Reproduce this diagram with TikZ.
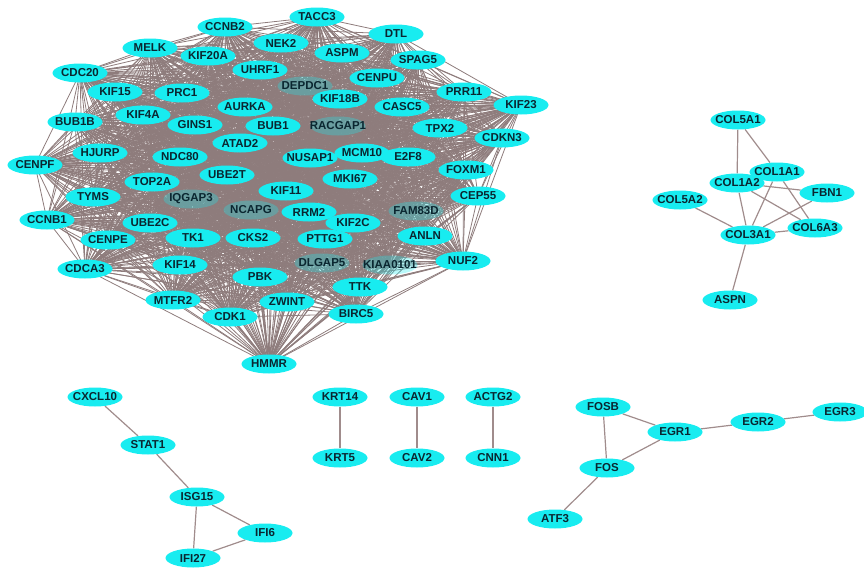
\documentclass[tikz,border=0pt]{standalone}
\usepackage{fontspec}
\setmainfont{Liberation Sans}
\usetikzlibrary{shapes.geometric}
\pgfdeclarelayer{edges}
\pgfsetlayers{edges,main}

\definecolor{nodecyan}{RGB}{24,236,240}
\definecolor{edgegray}{RGB}{142,124,124}
\definecolor{linkgray}{RGB}{160,140,140}
\definecolor{labelink}{RGB}{10,38,48}

\begin{document}
\begin{tikzpicture}[x=1pt,y=-1pt,
  gene/.style={ellipse, fill=nodecyan, minimum width=55pt, minimum height=19pt, inner sep=0pt},
  faint/.style={gene, fill opacity=0.3},
  ppi/.style={draw=edgegray, line width=0.8pt},
  link/.style={draw=linkgray, line width=1.2pt},
  every label/.style={font=\fontsize{11.5}{12}\selectfont\bfseries, text=labelink, inner sep=0pt, text opacity=1}
]
\useasboundingbox (0,0) rectangle (864,570);

% ---- proliferation module ----
\node[gene, label=center:TACC3]  (TACC3)  at (317,17)  {};
\node[gene, label=center:CCNB2]  (CCNB2)  at (225,27)  {};
\node[gene, label=center:DTL]    (DTL)    at (396,34)  {};
\node[gene, label=center:NEK2]   (NEK2)   at (281,43)  {};
\node[gene, label=center:MELK]   (MELK)   at (150,48)  {};
\node[gene, label=center:ASPM]   (ASPM)   at (342,53)  {};
\node[gene, label=center:KIF20A] (KIF20A) at (208,56)  {};
\node[gene, label=center:SPAG5]  (SPAG5)  at (418,60)  {};
\node[gene, label=center:UHRF1]  (UHRF1)  at (260,70)  {};
\node[gene, label=center:CDC20]  (CDC20)  at (80,73)   {};
\node[gene, label=center:CENPU]  (CENPU)  at (377,78)  {};
\node[faint, label=center:DEPDC1] (DEPDC1) at (305,86) {};
\node[gene, label=center:KIF15]  (KIF15)  at (115,92)  {};
\node[gene, label=center:PRR11]  (PRR11)  at (464,92)  {};
\node[gene, label=center:PRC1]   (PRC1)   at (182,93)  {};
\node[gene, label=center:KIF18B] (KIF18B) at (340,99)  {};
\node[gene, label=center:KIF23]  (KIF23)  at (521,105) {};
\node[gene, label=center:AURKA]  (AURKA)  at (245,107) {};
\node[gene, label=center:CASC5]  (CASC5)  at (402,107) {};
\node[gene, label=center:KIF4A]  (KIF4A)  at (143,115) {};
\node[gene, label=center:BUB1B]  (BUB1B)  at (75,122)  {};
\node[gene, label=center:GINS1]  (GINS1)  at (195,125) {};
\node[gene, label=center:BUB1]   (BUB1)   at (273,126) {};
\node[faint, label=center:RACGAP1] (RACGAP1) at (338,126) {};
\node[gene, label=center:TPX2]   (TPX2)   at (440,128) {};
\node[gene, label=center:CDKN3]  (CDKN3)  at (502,138) {};
\node[gene, label=center:ATAD2]  (ATAD2)  at (240,143) {};
\node[gene, label=center:HJURP]  (HJURP)  at (100,153) {};
\node[gene, label=center:MCM10]  (MCM10)  at (362,153) {};
\node[gene, label=center:NDC80]  (NDC80)  at (180,157) {};
\node[gene, label=center:E2F8]   (E2F8)   at (408,157) {};
\node[gene, label=center:NUSAP1] (NUSAP1) at (310,158) {};
\node[gene, label=center:CENPF]  (CENPF)  at (35,165)  {};
\node[gene, label=center:FOXM1]  (FOXM1)  at (466,170) {};
\node[gene, label=center:UBE2T]  (UBE2T)  at (227,175) {};
\node[gene, label=center:MKI67]  (MKI67)  at (350,179) {};
\node[gene, label=center:TOP2A]  (TOP2A)  at (152,182) {};
\node[gene, label=center:KIF11]  (KIF11)  at (286,191) {};
\node[gene, label=center:CEP55]  (CEP55)  at (478,196) {};
\node[gene, label=center:TYMS]   (TYMS)   at (93,197)  {};
\node[faint, label=center:IQGAP3] (IQGAP3) at (191,199) {};
\node[faint, label=center:NCAPG]  (NCAPG)  at (251,210) {};
\node[faint, label=center:FAM83D] (FAM83D) at (416,211) {};
\node[gene, label=center:RRM2]   (RRM2)   at (309,212) {};
\node[gene, label=center:CCNB1]  (CCNB1)  at (47,220)  {};
\node[gene, label=center:UBE2C]  (UBE2C)  at (150,223) {};
\node[gene, label=center:KIF2C]  (KIF2C)  at (353,223) {};
\node[gene, label=center:ANLN]   (ANLN)   at (425,236) {};
\node[gene, label=center:TK1]    (TK1)    at (193,238) {};
\node[gene, label=center:CKS2]   (CKS2)   at (253,238) {};
\node[gene, label=center:PTTG1]  (PTTG1)  at (325,239) {};
\node[gene, label=center:CENPE]  (CENPE)  at (108,240) {};
\node[gene, label=center:NUF2]   (NUF2)   at (463,261) {};
\node[faint, label=center:DLGAP5]   (DLGAP5)   at (322,263) {};
\node[faint, label=center:KIAA0101] (KIAA0101) at (390,265) {};
\node[gene, label=center:KIF14]  (KIF14)  at (180,265) {};
\node[gene, label=center:CDCA3]  (CDCA3)  at (85,269)  {};
\node[gene, label=center:PBK]    (PBK)    at (260,277) {};
\node[gene, label=center:TTK]    (TTK)    at (360,287) {};
\node[gene, label=center:MTFR2]  (MTFR2)  at (173,300) {};
\node[gene, label=center:ZWINT]  (ZWINT)  at (287,302) {};
\node[gene, label=center:BIRC5]  (BIRC5)  at (356,314) {};
\node[gene, label=center:CDK1]   (CDK1)   at (230,317) {};
\node[gene, label=center:HMMR]   (HMMR)   at (269,364) {};

\def\hubset{TACC3,CCNB2,DTL,NEK2,MELK,ASPM,KIF20A,SPAG5,UHRF1,CDC20,CENPU,DEPDC1,KIF15,PRR11,PRC1,KIF18B,KIF23,AURKA,CASC5,KIF4A,BUB1B,GINS1,BUB1,RACGAP1,TPX2,CDKN3,ATAD2,HJURP,MCM10,NDC80,E2F8,NUSAP1,CENPF,FOXM1,UBE2T,MKI67,TOP2A,KIF11,CEP55,TYMS,IQGAP3,NCAPG,FAM83D,RRM2,CCNB1,UBE2C,KIF2C,ANLN,TK1,CKS2,PTTG1,CENPE,NUF2,DLGAP5,KIAA0101,KIF14,CDCA3,PBK,TTK,MTFR2,ZWINT,BIRC5,CDK1,HMMR}

% ---- collagen module ----
\node[gene, label=center:COL5A1] (COL5A1) at (738,120) {};
\node[gene, label=center:COL1A1] (COL1A1) at (777,172) {};
\node[gene, label=center:COL1A2] (COL1A2) at (737,183) {};
\node[gene, label=center:FBN1]   (FBN1)   at (827,193) {};
\node[gene, label=center:COL5A2] (COL5A2) at (680,200) {};
\node[gene, label=center:COL6A3] (COL6A3) at (815,228) {};
\node[gene, label=center:COL3A1] (COL3A1) at (748,235) {};
\node[gene, label=center:ASPN]   (ASPN)   at (730,300) {};

% ---- interferon module ----
\node[gene, label=center:CXCL10] (CXCL10) at (95,397)  {};
\node[gene, label=center:STAT1]  (STAT1)  at (148,445) {};
\node[gene, label=center:ISG15]  (ISG15)  at (197,497) {};
\node[gene, label=center:IFI6]   (IFI6)   at (265,533) {};
\node[gene, label=center:IFI27]  (IFI27)  at (193,558) {};

% ---- pairs ----
\node[gene, label=center:KRT14] (KRT14) at (340,397) {};
\node[gene, label=center:KRT5]  (KRT5)  at (340,458) {};
\node[gene, label=center:CAV1]  (CAV1)  at (417,397) {};
\node[gene, label=center:CAV2]  (CAV2)  at (417,458) {};
\node[gene, label=center:ACTG2] (ACTG2) at (493,397) {};
\node[gene, label=center:CNN1]  (CNN1)  at (493,458) {};

% ---- immediate early module ----
\node[gene, label=center:FOSB] (FOSB) at (603,407) {};
\node[gene, label=center:EGR1] (EGR1) at (675,432) {};
\node[gene, label=center:EGR2] (EGR2) at (758,422) {};
\node[gene, label=center:EGR3] (EGR3) at (840,412) {};
\node[gene, label=center:FOS]  (FOS)  at (607,468) {};
\node[gene, label=center:ATF3] (ATF3) at (555,519) {};

\begin{pgfonlayer}{edges}
  % every pair in the proliferation module interacts
  \foreach \a [count=\i] in \hubset {
    \foreach \b [count=\j] in \hubset {
      \ifnum\j>\i \draw[ppi] (\a.center) -- (\b.center); \fi
    }
  }
  \draw[link] (COL5A1) -- (COL1A2);
  \draw[link] (COL5A1) -- (COL1A1);
  \draw[link] (COL1A1) -- (COL6A3);
  \draw[link] (COL1A1) -- (COL3A1);
  \draw[link] (COL1A2) -- (COL3A1);
  \draw[link] (COL1A2) -- (COL6A3);
  \draw[link] (COL1A2) -- (FBN1);
  \draw[link] (COL5A2) -- (COL3A1);
  \draw[link] (FBN1) -- (COL3A1);
  \draw[link] (COL6A3) -- (COL3A1);
  \draw[link] (COL3A1) -- (ASPN);

  \draw[link] (CXCL10) -- (STAT1);
  \draw[link] (STAT1) -- (ISG15);
  \draw[link] (ISG15) -- (IFI27);
  \draw[link] (ISG15) -- (IFI6);
  \draw[link] (IFI6) -- (IFI27);

  \draw[link] (KRT14) -- (KRT5);
  \draw[link] (CAV1) -- (CAV2);
  \draw[link] (ACTG2) -- (CNN1);

  \draw[link] (FOSB) -- (EGR1);
  \draw[link] (FOSB) -- (FOS);
  \draw[link] (FOS) -- (EGR1);
  \draw[link] (EGR1) -- (EGR2);
  \draw[link] (EGR2) -- (EGR3);
  \draw[link] (FOS) -- (ATF3);
\end{pgfonlayer}
\end{tikzpicture}
\end{document}
